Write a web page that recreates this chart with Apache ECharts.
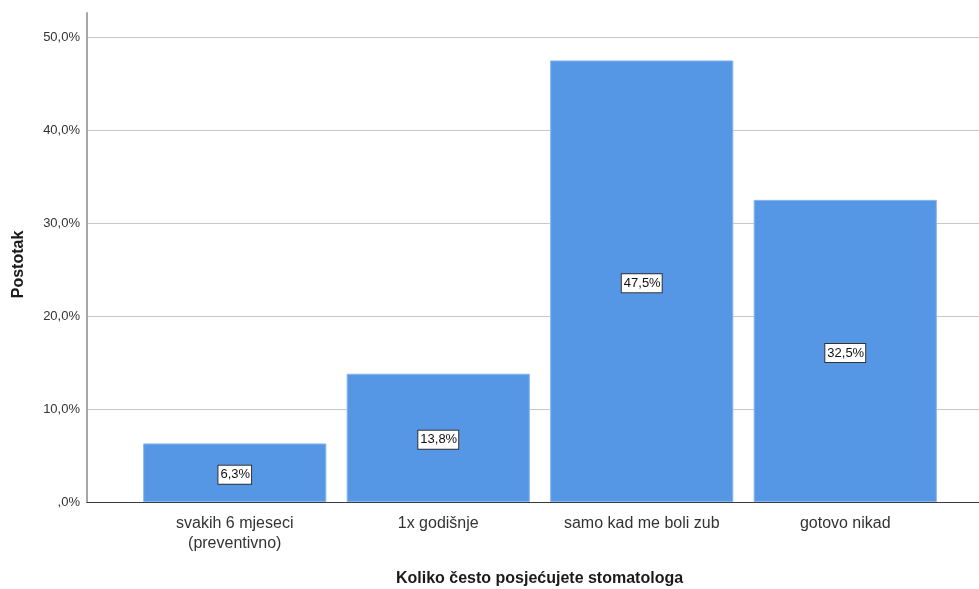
<!DOCTYPE html>
<html><head><meta charset="utf-8">
<script src="https://cdn.jsdelivr.net/npm/echarts@6/dist/echarts.min.js"></script>
<style>html,body{margin:0;padding:0;background:#fff}#c{width:979px;height:589px}</style>
</head><body><div id="c"></div>
<script>
const categories = ['svakih 6 mjeseci\n(preventivno)', '1x godišnje', 'samo kad me boli zub', 'gotovo nikad'];
const values = [6.3, 13.8, 47.5, 32.5];
const yTicks = [0, 10, 20, 30, 40, 50];
const xTitle = 'Koliko često posjećujete stomatologa';
const yTitle = 'Postotak';

const fmt = v => v === 0 ? ',0%' : v.toFixed(1).replace('.', ',') + '%';
const chart = echarts.init(document.getElementById('c'), null, {renderer: 'canvas'});
const FONT = 'Liberation Sans, Arial, sans-serif';
const YMAX = 52.6;
chart.setOption({
  animation: false,
  grid: [
    {left: 87, right: 0, top: 13, bottom: 87, outerBoundsMode: 'none', containLabel: false},
    {left: 133, right: 32, top: 13, bottom: 87, outerBoundsMode: 'none', containLabel: false}
  ],
  xAxis: [
    {gridIndex: 0, type: 'value', min: 0, max: 1,
     axisLine: {show: true, onZero: false, lineStyle: {color: '#3a3a3a', width: 1}},
     axisTick: {show: false}, axisLabel: {show: false}, splitLine: {show: false},
     name: xTitle, nameLocation: 'middle', nameGap: 69,
     nameTextStyle: {fontFamily: FONT, fontSize: 16, fontWeight: 'bold', color: '#1a1a1a', padding: [0, 0, 0, 13]}
    },
    {gridIndex: 1, type: 'category', data: categories,
     axisLine: {show: false}, axisTick: {show: false},
     axisLabel: {fontFamily: FONT, fontSize: 16, color: '#333', lineHeight: 20, margin: 12, interval: 0}
    }
  ],
  yAxis: [
    {gridIndex: 0, type: 'value', min: 0, max: YMAX, interval: 10,
     axisLine: {show: true, onZero: false, lineStyle: {color: '#a6a6a6', width: 2}},
     axisTick: {show: false},
     axisLabel: {fontFamily: FONT, fontSize: 13, color: '#333', margin: 7,
       formatter: v => yTicks.includes(Math.round(v * 1000) / 1000) ? fmt(v) : ''},
     splitLine: {show: true, showMaxLine: false, lineStyle: {color: '#c8c8c8', width: 1}},
     name: yTitle, nameLocation: 'middle', nameGap: 60,
     nameTextStyle: {fontFamily: FONT, fontSize: 16, fontWeight: 'bold', color: '#1a1a1a', padding: [0, 14, 0, 0]}
    },
    {gridIndex: 1, type: 'value', min: 0, max: YMAX, show: false, splitLine: {show: false}}
  ],
  series: [{
    type: 'bar', xAxisIndex: 1, yAxisIndex: 1, data: values,
    barCategoryGap: '10%',
    itemStyle: {color: '#5596e5', borderColor: '#8ab6ee', borderWidth: 1},
    label: {show: true, position: 'inside', offset: [0, 2], formatter: p => fmt(p.value),
      fontFamily: FONT, fontSize: 13, color: '#111',
      backgroundColor: '#fff', borderColor: '#333', borderWidth: 1, padding: [3, 1, 2, 2]}
  }]
});
</script></body></html>
